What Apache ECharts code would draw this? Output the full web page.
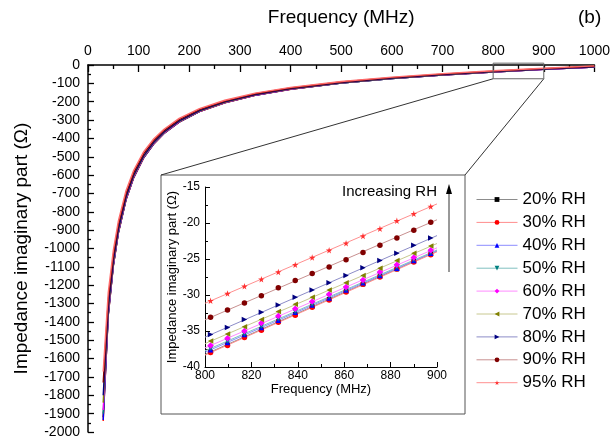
<!DOCTYPE html>
<html>
<head>
<meta charset="utf-8">
<script src="https://cdn.jsdelivr.net/npm/echarts@6/dist/echarts.min.js"></script>
<style>html,body{margin:0;padding:0;background:#fff}#c{width:613px;height:439px}</style>
</head>
<body>
<div id="c"></div>
<script>
// ---------- data ----------
var seriesNames = ['20% RH','30% RH','40% RH','50% RH','60% RH','70% RH','80% RH','90% RH','95% RH'];
// main plot: frequency (MHz)
var freqMain = [30,40,50,60,75,90,110,130,150,180,220,270,330,400,500,600,700,800,900,1000];
var rh20 = [-1920,-1363,-1094,-915,-735,-615,-505,-429,-373,-311,-254,-206,-165,-132,-98.6,-74.1,-54.5,-38.2,-24.0,-11.3];
var rh30 = [-1940,-1365,-1096,-916,-736,-616,-506,-430,-373.5,-311.4,-254.3,-206.3,-165.2,-132.2,-98.8,-74.3,-54.7,-38.3,-24.1,-11.4];
var rh40 = [-1935,-1358,-1091,-912,-733,-613,-504,-428,-372,-310,-253,-205.4,-164.5,-131.6,-98.3,-73.8,-54.2,-37.9,-23.8,-11.0];
var rh50 = [-1900,-1354,-1088,-910,-731,-612,-503,-427,-371.4,-309.6,-252.9,-205.0,-164.2,-131.3,-98.0,-73.5,-54.0,-37.7,-23.6,-10.9];
var rh60 = [-1880,-1347,-1083,-907,-728.5,-610,-500.7,-425.5,-370,-308.4,-251.9,-204.2,-163.4,-130.7,-97.5,-73.0,-53.5,-37.3,-23.2,-10.5];
var rh70 = [-1840,-1336,-1076,-901,-724,-606,-497.7,-423,-368,-306.6,-250.5,-202.9,-162.4,-129.8,-96.7,-72.3,-52.9,-36.6,-22.7,-9.9];
var rh80 = [-1800,-1321,-1065,-893,-718,-601,-494,-420,-365,-304.2,-248.6,-201.2,-160.9,-128.6,-95.7,-71.3,-52.0,-35.8,-22.0,-9.2];
var rh90 = [-1730,-1281,-1038,-871,-701.5,-588,-483,-411,-357.6,-297.6,-243.3,-196.6,-157,-125.3,-92.8,-68.7,-49.5,-33.4,-20.0,-7.1];
var rh95 = [-1670,-1240,-1010,-850,-685,-575,-472,-402,-350,-291,-238,-192,-153,-122,-90,-66,-47,-31,-18,-5];
var mainValues = [rh20,rh30,rh40,rh50,rh60,rh70,rh80,rh90,rh95];

// inset: measured points 800-900 MHz
var freqInset = [802.4,809.7,817.0,824.3,831.6,838.9,846.2,853.5,860.8,868.1,875.4,882.7,890.0,897.3];
var in20 = [-37.9,-36.9,-35.8,-34.8,-33.7,-32.7,-31.6,-30.6,-29.5,-28.5,-27.4,-26.4,-25.3,-24.3];
var in30 = [-38.0,-37.0,-35.9,-34.9,-33.8,-32.8,-31.7,-30.7,-29.6,-28.5,-27.5,-26.4,-25.4,-24.4];
var in40 = [-37.6,-36.6,-35.5,-34.5,-33.5,-32.4,-31.4,-30.4,-29.3,-28.3,-27.3,-26.3,-25.2,-24.2];
var in50 = [-37.4,-36.4,-35.4,-34.3,-33.3,-32.3,-31.3,-30.2,-29.2,-28.2,-27.2,-26.1,-25.1,-24.1];
var in60 = [-37.0,-36.0,-35.0,-33.9,-32.9,-31.9,-30.9,-29.9,-28.9,-27.9,-26.8,-25.8,-24.8,-23.8];
var in70 = [-36.4,-35.4,-34.4,-33.4,-32.3,-31.3,-30.3,-29.3,-28.3,-27.3,-26.3,-25.2,-24.2,-23.2];
var in80 = [-35.5,-34.5,-33.4,-32.4,-31.4,-30.3,-29.3,-28.3,-27.3,-26.2,-25.2,-24.2,-23.1,-22.1];
var in90 = [-33.1,-32.1,-31.1,-30.1,-29.0,-28.0,-27.0,-26.1,-25.1,-24.1,-23.1,-22.1,-21.0,-19.9];
var in95 = [-30.8,-29.8,-28.8,-27.8,-26.8,-25.8,-24.8,-23.8,-22.8,-21.8,-20.8,-19.7,-18.7,-17.7];
var insetValues = [in20,in30,in40,in50,in60,in70,in80,in90,in95];
// inset fitted lines: value at 800 MHz and at 900 MHz
var fitFreq = [800, 900];
var fitAt800 = [-38.25,-38.35,-37.95,-37.75,-37.35,-36.75,-35.85,-33.45,-31.15];
var fitAt900 = [-23.9,-24.0,-23.85,-23.75,-23.45,-22.85,-21.75,-19.55,-17.35];

// zoom window shown on main plot (MHz, Ohm)
var zoomFreq = [800, 900];
var zoomImp = [10, -75];

// ---------- styles ----------
var mainColors = ['#000000','#ff0000','#0000ff','#008080','#ff00ff','#808000','#000080','#800000','#ff6a6a'];
var markColors = ['#000000','#ff0000','#0000ff','#008080','#ff00ff','#808000','#000080','#800000','#ff3030'];
var lightColors = ['#8c8c8c','#ff8c8c','#8c8cff','#80c0c0','#ff8cff','#c8c890','#8c8cc8','#c89090','#ff9090'];
var starPath = 'path://M50,0 L61,35 L98,35 L68,57 L79,91 L50,70 L21,91 L32,57 L2,35 L39,35 Z';
var symbols = ['rect','circle','triangle','triangle','diamond','triangle','triangle','circle',starPath];
var symRot = [0,0,0,180,0,90,-90,0,0];
var symSize = [4.5,5.5,5.5,5.5,6.5,5.5,5.5,5.5,6.5];

var FONT = 'Liberation Sans, Arial, sans-serif';
var plain = function(v){ return String(v); };
var chart = echarts.init(document.getElementById('c'), null, {renderer:'canvas'});

var series = [];
for (var i = 0; i < 9; i++) {
  series.push({
    name: 'main' + i, type: 'line', xAxisIndex: 0, yAxisIndex: 0,
    data: freqMain.map(function(f, k){ return [f, mainValues[i][k]]; }),
    showSymbol: false, symbol: 'none', silent: true,
    lineStyle: {color: mainColors[i], width: 1.4}, z: 2 + i
  });
}
for (var i = 0; i < 9; i++) {
  series.push({
    name: 'fit' + i, type: 'line', xAxisIndex: 1, yAxisIndex: 1,
    data: fitFreq.map(function(f, k){ return [f, k === 0 ? fitAt800[i] : fitAt900[i]]; }),
    showSymbol: false, symbol: 'none', silent: true,
    lineStyle: {color: lightColors[i], width: 1}, z: 2
  });
}
for (var i = 0; i < 9; i++) {
  series.push({
    name: seriesNames[i], type: 'line', xAxisIndex: 1, yAxisIndex: 1,
    data: freqInset.map(function(f, k){ return [f, insetValues[i][k]]; }),
    symbol: symbols[i], symbolSize: symSize[i], symbolRotate: symRot[i], showSymbol: true,
    itemStyle: {color: markColors[i]},
    lineStyle: {color: lightColors[i], width: 0, opacity: 0}, z: 5 + i
  });
}

var baseOption = {
  animation: false,
  backgroundColor: '#ffffff',
  textStyle: {fontFamily: FONT},
  grid: [
    {left: 88, top: 65, width: 507, height: 369},
    {left: 205, top: 187, width: 232, height: 180}
  ],
  xAxis: [
    {gridIndex: 0, type: 'value', position: 'top', min: 0, max: 1000, interval: 100,
     name: 'Frequency (MHz)', nameLocation: 'middle', nameGap: 38,
     nameTextStyle: {fontSize: 19, color: '#000', fontFamily: FONT},
     axisLine: {lineStyle: {color: '#000', width: 1.5}},
     axisTick: {inside: true, length: 7, lineStyle: {color: '#000', width: 1.3}},
     minorTick: {show: true, splitNumber: 2, length: 4, lineStyle: {color: '#000', width: 1.3}},
     axisLabel: {fontSize: 14, color: '#000', margin: 7, fontFamily: FONT, formatter: plain},
     splitLine: {show: false}},
    {gridIndex: 1, type: 'value', position: 'bottom', min: 800, max: 900, interval: 20,
     name: 'Frequency (MHz)', nameLocation: 'middle', nameGap: 16,
     nameTextStyle: {fontSize: 13, color: '#000', fontFamily: FONT},
     axisLine: {lineStyle: {color: '#000', width: 1}},
     axisTick: {inside: true, length: 5, lineStyle: {color: '#000'}},
     minorTick: {show: true, splitNumber: 2, length: 3, lineStyle: {color: '#000'}},
     axisLabel: {fontSize: 12, color: '#000', margin: 3, fontFamily: FONT, formatter: plain},
     splitLine: {show: false}}
  ],
  yAxis: [
    {gridIndex: 0, type: 'value', min: -2000, max: 0, interval: 100,
     name: 'Impedance imaginary part (\u03A9)', nameLocation: 'middle', nameGap: 57,
     nameTextStyle: {fontSize: 19, color: '#000', fontFamily: FONT},
     axisLine: {lineStyle: {color: '#000', width: 1.5}},
     axisTick: {inside: true, length: 6, lineStyle: {color: '#000', width: 1.3}},
     minorTick: {show: true, splitNumber: 2, length: 3, lineStyle: {color: '#000', width: 1.3}},
     axisLabel: {fontSize: 14, color: '#000', margin: 8, fontFamily: FONT, formatter: plain},
     splitLine: {show: false}},
    {gridIndex: 1, type: 'value', min: -40, max: -15, interval: 5,
     name: 'Impedance imaginary part (\u03A9)', nameLocation: 'middle', nameGap: 24,
     nameTextStyle: {fontSize: 13, color: '#000', fontFamily: FONT},
     axisLine: {lineStyle: {color: '#000', width: 1}},
     axisTick: {inside: true, length: 5, lineStyle: {color: '#000'}},
     minorTick: {show: true, splitNumber: 2, length: 3, lineStyle: {color: '#000'}},
     axisLabel: {fontSize: 12, color: '#000', margin: 5, fontFamily: FONT, formatter: plain},
     splitLine: {show: false}}
  ],
  legend: {
    orient: 'vertical', left: 471, top: 186,
    itemWidth: 41, itemHeight: 6, itemGap: 5.9,
    textStyle: {fontSize: 17, color: '#000', fontFamily: FONT, lineHeight: 17},
    data: seriesNames.map(function(n, i){
      return {name: n, lineStyle: {color: lightColors[i], width: 1, opacity: 1}};
    }),
    selectedMode: false
  },
  series: series
};
chart.setOption(baseOption);

function px(x, y){ return chart.convertToPixel({xAxisIndex: 0, yAxisIndex: 0}, [x, y]); }
var zTL = px(zoomFreq[0], zoomImp[0]);
var zBR = px(zoomFreq[1], zoomImp[1]);
var frame = {x: 161, y: 175, w: 304, h: 239};

chart.setOption({
  graphic: [
    {type: 'rect', shape: {x: frame.x, y: frame.y, width: frame.w, height: frame.h},
     style: {fill: 'none', stroke: '#555', lineWidth: 1}, z: 1, silent: true},
    {type: 'rect', shape: {x: zTL[0], y: zTL[1], width: zBR[0] - zTL[0], height: zBR[1] - zTL[1]},
     style: {fill: 'none', stroke: '#666', lineWidth: 1}, z: 20, silent: true},
    {type: 'line', shape: {x1: frame.x, y1: frame.y, x2: zTL[0], y2: zBR[1]},
     style: {stroke: '#333', lineWidth: 1}, z: 1, silent: true},
    {type: 'line', shape: {x1: frame.x + frame.w, y1: frame.y, x2: zBR[0], y2: zBR[1]},
     style: {stroke: '#333', lineWidth: 1}, z: 1, silent: true},
    {type: 'text', left: 342, top: 184,
     style: {text: 'Increasing RH', fontSize: 15, fill: '#000', font: '15px ' + FONT}, z: 30},
    {type: 'line', shape: {x1: 449, y1: 272, x2: 449, y2: 192},
     style: {stroke: '#333', lineWidth: 1}, z: 30, silent: true},
    {type: 'polygon', shape: {points: [[449, 184], [446, 194], [452, 194]]},
     style: {fill: '#000'}, z: 30, silent: true},
    {type: 'text', left: 578, top: 8,
     style: {text: '(b)', fontSize: 19, fill: '#000', font: '19px ' + FONT}, z: 30}
  ]
});
</script>
</body>
</html>
